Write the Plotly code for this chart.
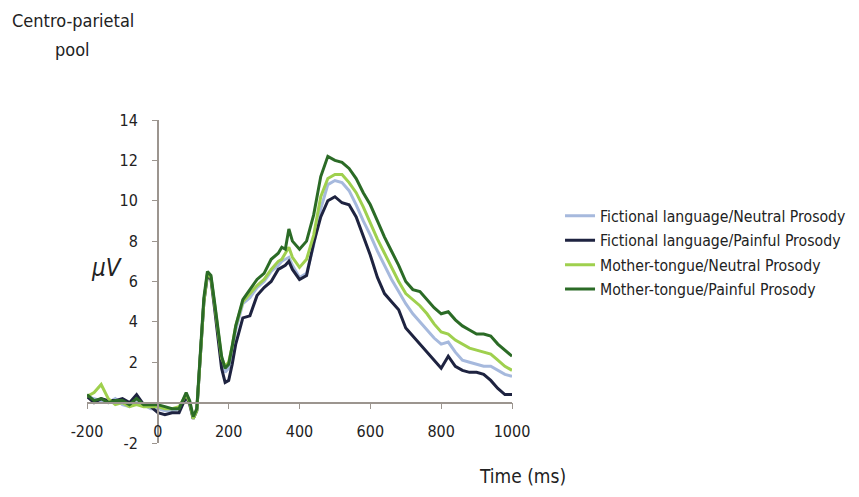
import plotly.graph_objects as go

time_ms = [-200, -180, -160, -140, -120, -100, -80, -60, -40, -20, 0, 20, 40, 60, 70, 80, 90,
           100, 110, 120, 130, 140, 150, 160, 170, 180, 190, 200, 210, 220, 240, 260, 280, 300,
           320, 340, 350, 360, 370, 380, 400, 420, 440, 460, 480, 500, 520, 540, 560, 580, 600,
           620, 640, 660, 680, 700, 720, 740, 760, 780, 800, 820, 840, 860, 880, 900, 920, 940,
           960, 980, 1000]

fictional_neutral = [0.3, 0.2, 0.1, 0.0, 0.2, -0.1, -0.2, 0.0, -0.1, -0.3, -0.3, -0.4, -0.4, -0.3, 0.0, 0.4, 0.0,
                     -0.8, -0.4, 2.3, 5.0, 6.4, 6.2, 4.9, 3.4, 2.1, 1.5, 1.7, 2.6, 3.6, 4.9, 5.2, 5.7, 6.0,
                     6.5, 6.8, 7.0, 7.1, 7.2, 6.8, 6.2, 6.4, 7.8, 9.6, 10.8, 11.0, 10.9, 10.5, 9.8, 9.0, 8.3,
                     7.5, 6.8, 6.1, 5.5, 4.9, 4.4, 4.0, 3.6, 3.2, 2.9, 3.0, 2.5, 2.1, 2.0, 1.9, 1.8, 1.8,
                     1.6, 1.4, 1.3]
fictional_painful = [0.3, 0.0, 0.2, 0.1, 0.1, 0.2, 0.0, 0.4, -0.1, -0.2, -0.5, -0.6, -0.5, -0.5, -0.1, 0.3, -0.1,
                     -0.8, -0.4, 2.2, 5.0, 6.3, 6.1, 4.7, 3.1, 1.7, 1.0, 1.1, 1.9, 2.9, 4.2, 4.3, 5.3, 5.7,
                     6.0, 6.6, 6.7, 6.8, 7.0, 6.6, 6.1, 6.3, 7.9, 9.2, 10.0, 10.2, 9.9, 9.8, 9.2, 8.3, 7.3,
                     6.2, 5.4, 5.0, 4.6, 3.7, 3.3, 2.9, 2.5, 2.1, 1.7, 2.3, 1.8, 1.6, 1.5, 1.5, 1.4, 1.1,
                     0.7, 0.4, 0.4]
mother_neutral = [0.3, 0.5, 0.9, 0.2, -0.1, 0.0, -0.2, -0.1, -0.2, -0.2, -0.2, -0.3, -0.3, -0.2, 0.1, 0.4, 0.0,
                  -0.8, -0.4, 2.3, 5.0, 6.4, 6.2, 4.9, 3.5, 2.2, 1.8, 2.0, 2.8, 3.8, 5.0, 5.4, 5.8, 6.1,
                  6.6, 7.0, 7.1, 7.4, 7.7, 7.2, 6.7, 7.1, 8.3, 10.2, 11.1, 11.3, 11.3, 10.9, 10.4, 9.7, 8.9,
                  8.1, 7.4, 6.7, 6.0, 5.4, 5.1, 4.8, 4.4, 3.9, 3.5, 3.4, 3.1, 2.9, 2.7, 2.6, 2.5, 2.4,
                  2.1, 1.8, 1.6]
mother_painful = [0.4, 0.1, 0.2, 0.0, 0.1, 0.1, -0.1, 0.2, -0.1, -0.1, -0.1, -0.2, -0.3, -0.3, 0.1, 0.5, 0.1,
                  -0.7, -0.3, 2.5, 5.2, 6.5, 6.3, 5.0, 3.6, 2.3, 1.7, 1.9, 2.8, 3.8, 5.1, 5.6, 6.1, 6.4,
                  7.1, 7.4, 7.7, 7.6, 8.6, 8.0, 7.6, 8.0, 9.3, 11.2, 12.2, 12.0, 11.9, 11.6, 11.1, 10.4, 9.8,
                  9.0, 8.2, 7.5, 6.8, 6.0, 5.6, 5.5, 5.1, 4.7, 4.4, 4.5, 4.1, 3.8, 3.6, 3.4, 3.4, 3.3,
                  2.9, 2.6, 2.3]

series_names = ["Fictional language/Neutral Prosody", "Fictional language/Painful Prosody",
                "Mother-tongue/Neutral Prosody", "Mother-tongue/Painful Prosody"]
series_values = [fictional_neutral, fictional_painful, mother_neutral, mother_painful]
series_colors = ["#a6b9dd", "#1e2340", "#9fd04e", "#2b6b26"]

x_ticks = [-200, 0, 200, 400, 600, 800, 1000]
x_tick_labels = ["-200", "0", "200", "400", "600", "800", "1000"]
y_ticks = [-2, 0, 2, 4, 6, 8, 10, 12, 14]
y_tick_labels = ["-2", "", "2", "4", "6", "8", "10", "12", "14"]
x_range = [-200, 1000]
y_range = [-2, 14]

FONT = "Liberation Sans Narrow, Arial Narrow, DejaVu Sans Condensed, sans-serif"
AXIS_COLOR = "#9c958f"
TEXT = "#222222"

fig = go.Figure()
for i, (name, vals, col) in enumerate(zip(series_names, series_values, series_colors)):
    fig.add_trace(go.Scatter(x=time_ms, y=vals, mode="lines", name=name,
                             legendgroup=f"g{i}",
                             line=dict(color=col, width=3)))

x_pos = (0 - y_range[0]) / (y_range[1] - y_range[0])
y_pos = (0 - x_range[0]) / (x_range[1] - x_range[0])

# page has an 8px body margin, so the figure is 8px smaller than the window
fig.update_layout(
    width=851, height=489,
    margin=dict(l=79, r=347, t=112, b=54, autoexpand=False),
    paper_bgcolor="white", plot_bgcolor="white",
    font=dict(family=FONT, color=TEXT),
    xaxis=dict(range=x_range, tickvals=x_ticks, ticktext=x_tick_labels,
               showgrid=False, zeroline=False,
               showline=True, linecolor=AXIS_COLOR, linewidth=1.5,
               ticks="outside", ticklen=6, tickcolor=AXIS_COLOR,
               anchor="free", position=x_pos, ticklabelstandoff=8,
               tickfont=dict(size=16, family=FONT, color=TEXT)),
    yaxis=dict(range=y_range, tickvals=y_ticks, ticktext=y_tick_labels,
               showgrid=False, zeroline=False,
               showline=True, linecolor=AXIS_COLOR, linewidth=1.5,
               ticks="outside", ticklen=5, tickcolor=AXIS_COLOR,
               anchor="free", position=y_pos, ticklabelstandoff=11,
               tickfont=dict(size=16, family=FONT, color=TEXT)),
    legend=dict(x=1.113, y=0.755, xanchor="left", yanchor="top",
                font=dict(size=15.7, family=FONT, color=TEXT),
                bgcolor="rgba(0,0,0,0)", tracegroupgap=1),
    showlegend=True,
)

fig.add_annotation(text="<i>μV</i>", xref="paper", yref="paper", x=0.048, y=0.542,
                   xanchor="center", yanchor="middle",
                   showarrow=False, font=dict(size=24, family=FONT, color=TEXT))
fig.add_annotation(text="Time (ms)", xref="paper", yref="paper", x=1.024, y=-0.102,
                   xanchor="center", yanchor="middle",
                   showarrow=False, font=dict(size=19, family=FONT, color=TEXT))
fig.add_annotation(text="Centro-parietal", xref="paper", yref="paper", x=-0.033, y=1.307,
                   xanchor="center", yanchor="middle",
                   showarrow=False, font=dict(size=18, family=FONT, color=TEXT))
fig.add_annotation(text="pool", xref="paper", yref="paper", x=-0.033, y=1.217,
                   xanchor="center", yanchor="middle",
                   showarrow=False, font=dict(size=18, family=FONT, color=TEXT))

fig.write_html("out.html")
